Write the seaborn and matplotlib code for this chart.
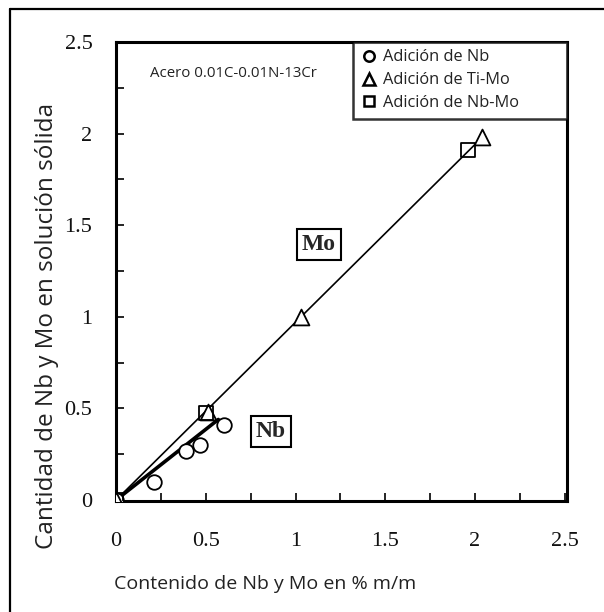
import matplotlib
matplotlib.use("Agg")
import matplotlib.pyplot as plt
import seaborn as sns
import pandas as pd
from matplotlib.lines import Line2D
from matplotlib.ticker import MultipleLocator

# ---- data ----
nb_x = [0.0, 0.21, 0.39, 0.47, 0.60]
nb_y = [0.0, 0.10, 0.27, 0.30, 0.41]
timo_x = [0.0, 0.51, 1.03, 2.04]
timo_y = [0.0, 0.48, 1.00, 1.98]
nbmo_x = [0.0, 0.50, 1.96]
nbmo_y = [0.0, 0.475, 1.91]
mo_fit_x = [0.0, 2.03]
mo_fit_y = [0.0, 1.97]
nb_fit_x = [0.0, 0.57]
nb_fit_y = [0.0, 0.44]
x_ticks = [0, 0.5, 1, 1.5, 2, 2.5]
y_ticks = [0, 0.5, 1, 1.5, 2, 2.5]
tick_labels = ["0", "0.5", "1", "1.5", "2", "2.5"]
legend_labels = ["Adición de Nb", "Adición de Ti-Mo", "Adición de Nb-Mo"]
steel_label = "Acero 0.01C-0.01N-13Cr"
xlabel = "Contenido de Nb y Mo en % m/m"
ylabel = "Cantidad de Nb y Mo en solución sólida"

sns.set_theme(style="white")
plt.rcParams["font.family"] = ["Open Sans", "DejaVu Sans"]

fig = plt.figure(figsize=(6.04, 6.12), dpi=100)
ax = fig.add_axes([116/604, 1 - 501/612, 451/604, 459/612])

# fit lines
sns.lineplot(x=mo_fit_x, y=mo_fit_y, ax=ax, color="black", linewidth=1.2, zorder=2)
sns.lineplot(x=nb_fit_x, y=nb_fit_y, ax=ax, color="black", linewidth=2.6, zorder=2)

# markers
sns.scatterplot(x=nb_x, y=nb_y, ax=ax, marker="o", s=110, facecolor="white",
                edgecolor="black", linewidth=1.3, zorder=3)
sns.scatterplot(x=timo_x, y=timo_y, ax=ax, marker="^", s=130, facecolor="white",
                edgecolor="black", linewidth=1.3, zorder=3)
sns.scatterplot(x=nbmo_x, y=nbmo_y, ax=ax, marker="s", s=105, facecolor="none",
                edgecolor="black", linewidth=1.3, zorder=4)

ax.set_xlim(0, 451/179.5)
ax.set_ylim(-0.005, 2.49)
ax.set_xticks(x_ticks)
ax.set_xticklabels(tick_labels)
ax.set_yticks(y_ticks)
ax.set_yticklabels(tick_labels)
ax.xaxis.set_minor_locator(MultipleLocator(0.25))
ax.yaxis.set_minor_locator(MultipleLocator(0.25))
ax.tick_params(which="both", direction="in", length=6, width=1.2, color="black",
               bottom=True, left=True, top=False, right=False)
ax.tick_params(axis="x", which="major", pad=22)
ax.tick_params(axis="y", which="major", pad=17)
for lab in ax.get_xticklabels() + ax.get_yticklabels():
    lab.set_fontfamily("Liberation Serif")
    lab.set_fontsize(16)
    lab.set_color("#111111")
for sp in ax.spines.values():
    sp.set_visible(True)
    sp.set_color("black")
    sp.set_linewidth(2.2)
ax.set_xlabel("")
ax.set_ylabel("")

# labels in boxes
box = dict(boxstyle="square,pad=0.22", facecolor="white", edgecolor="black", linewidth=1.5)
ax.text(1.131, 1.394, "Mo", family="Liberation Serif", weight="bold", fontsize=17,
        ha="center", va="center", bbox=box)
ax.text(0.863, 0.375, "Nb", family="Liberation Serif", weight="bold", fontsize=17,
        ha="center", va="center", bbox=box)

ax.text(0.075, 0.932, steel_label, transform=ax.transAxes, fontsize=10.8,
        ha="left", va="center", color="#222222")

# legend
handles = [
    Line2D([], [], linestyle="none", marker="o", markersize=7.5, mfc="white", mec="black", mew=1.8),
    Line2D([], [], linestyle="none", marker="^", markersize=8.5, mfc="white", mec="black", mew=1.8),
    Line2D([], [], linestyle="none", marker="s", markersize=7.5, mfc="white", mec="black", mew=1.8),
]
leg = ax.legend(handles, legend_labels, loc="upper left",
                bbox_to_anchor=(0.5255, 0.834, 0.4745, 0.166), mode="expand",
                borderaxespad=0, fancybox=False, frameon=True, fontsize=11.8,
                handlelength=1.1, handletextpad=0.3, labelspacing=0.42,
                borderpad=0.45)
leg.get_frame().set_edgecolor("black")
leg.get_frame().set_linewidth(1.8)
leg.get_frame().set_facecolor("white")
for t in leg.get_texts():
    t.set_color("#222222")

# axis titles
fig.text(265/604, 1 - 584/612, xlabel, ha="center", va="center", fontsize=14, color="#222222")
fig.text(47/604, 1 - 326/612, ylabel, ha="center", va="center", rotation=90,
         fontsize=17.5, color="#222222")

# outer frame (left and top edges)
fig.add_artist(Line2D([10/604, 10/604], [0, 1 - 9/612], transform=fig.transFigure,
                      color="black", linewidth=1.6))
fig.add_artist(Line2D([10/604, 1], [1 - 9/612, 1 - 9/612], transform=fig.transFigure,
                      color="black", linewidth=1.6))

fig.savefig("out.png", dpi=100)
